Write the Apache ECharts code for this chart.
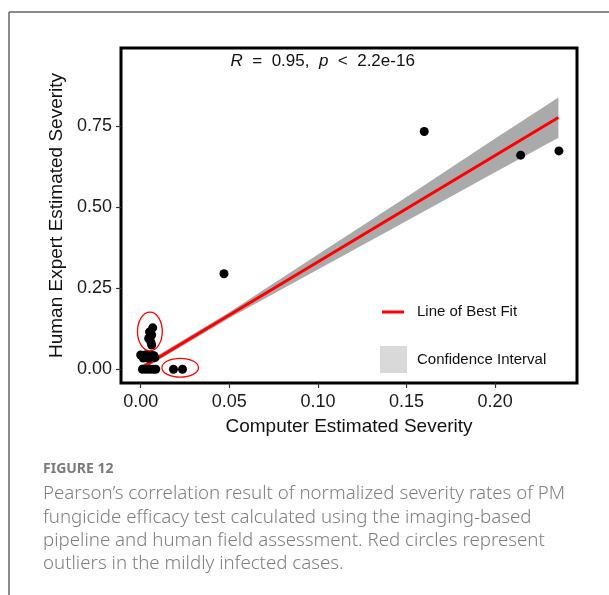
<!DOCTYPE html>
<html>
<head>
<meta charset="utf-8">
<script src="https://cdn.jsdelivr.net/npm/echarts@6/dist/echarts.min.js"></script>
<style>
  html, body { margin: 0; padding: 0; background: #fff; }
  #chart { width: 609px; height: 595px; }
</style>
</head>
<body>
<div id="chart"></div>
<script>
// [computer estimated, human estimated]
var clusterPoints = [
  [0.0068, 0.128], [0.0050, 0.115], [0.0062, 0.106], [0.0045, 0.095],
  [0.0058, 0.084], [0.0062, 0.075],
  [0.0000, 0.044], [0.0030, 0.045], [0.0060, 0.044], [0.0075, 0.042],
  [0.0015, 0.035], [0.0045, 0.034], [0.0080, 0.036],
  [0.0010, 0.000], [0.0030, 0.000], [0.0050, 0.000], [0.0070, 0.000], [0.0085, 0.000],
  [0.0185, 0.000], [0.0236, 0.000]
];
var otherPoints = [
  [0.047, 0.295], [0.160, 0.734], [0.2144, 0.661], [0.236, 0.674]
];
var fitX = [0.0005, 0.2357];
var fitY = [0.0047, 0.777];
var bandX = [0.0005, 0.05, 0.10, 0.15, 0.20, 0.2357];
var bandLower = [-0.003, 0.158, 0.308, 0.458, 0.608, 0.715];
var bandUpper = [0.013, 0.176, 0.354, 0.532, 0.712, 0.839];
// outlier rings: [centre x, centre y, radius x, radius y] in data units
var outlierRings = [
  [0.0052, 0.1167, 0.0070, 0.0596],
  [0.0223, 0.0050, 0.0103, 0.0290]
];
var xTicks = [0, 0.05, 0.10, 0.15, 0.20];
var yTicks = [0, 0.25, 0.50, 0.75];

var captionLines = [
  "Pearson\u2019s correlation result of normalized severity rates of PM",
  "fungicide efficacy test calculated using the imaging-based",
  "pipeline and human field assessment. Red circles represent",
  "outliers in the mildly infected cases."
];

var chart = echarts.init(document.getElementById("chart"));
var axisFont = "Liberation Sans";

var fitData = fitX.map(function (x, i) { return [x, fitY[i]]; });
var points = clusterPoints.concat(otherPoints);

var graphics = [
  { type: "line", shape: { x1: 9, y1: 12, x2: 609, y2: 12 }, style: { stroke: "#666", lineWidth: 1.5 } },
  { type: "line", shape: { x1: 9, y1: 12, x2: 9, y2: 595 }, style: { stroke: "#666", lineWidth: 1.5 } },
  {
    type: "text", x: 322.7, y: 61,
    style: {
      text: "{i|R}  =  0.95,  {i|p}  <  2.2e-16",
      fontFamily: axisFont, fontSize: 17, fill: "#111",
      align: "center", verticalAlign: "middle",
      rich: { i: { fontStyle: "italic", fontFamily: axisFont, fontSize: 17, fill: "#111" } }
    }
  },
  { type: "line", shape: { x1: 382, y1: 312, x2: 404, y2: 312 }, style: { stroke: "#ff0000", lineWidth: 3 } },
  { type: "rect", shape: { x: 380, y: 346, width: 27, height: 27 }, style: { fill: "#d9d9d9" } },
  { type: "text", x: 417, y: 312, style: { text: "Line of Best Fit", fontFamily: axisFont, fontSize: 15, fill: "#111", verticalAlign: "middle" } },
  { type: "text", x: 417, y: 360, style: { text: "Confidence Interval", fontFamily: axisFont, fontSize: 15, fill: "#111", verticalAlign: "middle" } },
  { type: "text", x: 43, y: 469, style: { text: "FIGURE 12", fontFamily: "Noto Sans", fontWeight: "bold", fontSize: 14, fill: "#7a7a7a", verticalAlign: "middle" } }
];
captionLines.forEach(function (line, i) {
  graphics.push({
    type: "text", x: 43, y: 494 + i * 23.3,
    style: { text: line, fontFamily: "Noto Sans", fontWeight: 300, fontSize: 18.7, fill: "#808080", verticalAlign: "middle" }
  });
});

chart.setOption({
  animation: false,
  grid: {
    left: 121, right: 32, top: 48, bottom: 212,
    show: true, borderColor: "#000", borderWidth: 3, backgroundColor: "#fff"
  },
  xAxis: {
    type: "value",
    min: -0.0111, max: 0.2462,
    name: "Computer Estimated Severity",
    nameLocation: "middle", nameGap: 34,
    nameTextStyle: { fontFamily: axisFont, fontSize: 19, color: "#111" },
    axisLine: { show: false, onZero: false },
    splitLine: { show: false },
    axisTick: { show: true, customValues: xTicks, length: 5, lineStyle: { color: "#333", width: 1.2 } },
    axisLabel: {
      customValues: xTicks, margin: 10,
      fontFamily: axisFont, fontSize: 18, color: "#1a1a1a",
      formatter: function (v) { return v.toFixed(2); }
    }
  },
  yAxis: {
    type: "value",
    min: -0.0423, max: 0.9917,
    name: "Human Expert Estimated Severity",
    nameLocation: "middle", nameGap: 51,
    nameTextStyle: { fontFamily: axisFont, fontSize: 19, color: "#111" },
    axisLine: { show: false, onZero: false },
    splitLine: { show: false },
    axisTick: { show: true, customValues: yTicks, length: 5, lineStyle: { color: "#333", width: 1.2 } },
    axisLabel: {
      customValues: yTicks, margin: 9,
      fontFamily: axisFont, fontSize: 18, color: "#1a1a1a",
      formatter: function (v) { return v.toFixed(2); }
    }
  },
  graphic: graphics,
  series: [
    {
      type: "custom",
      silent: true,
      z: 1,
      data: [[bandX[0], bandLower[0]]],
      renderItem: function (params, api) {
        var pts = [];
        for (var i = 0; i < bandX.length; i++) pts.push(api.coord([bandX[i], bandUpper[i]]));
        for (var j = bandX.length - 1; j >= 0; j--) pts.push(api.coord([bandX[j], bandLower[j]]));
        return { type: "polygon", shape: { points: pts }, style: { fill: "#aaaaaa" } };
      }
    },
    {
      type: "line",
      data: fitData,
      symbol: "none",
      silent: true,
      z: 2,
      lineStyle: { color: "#ff0000", width: 3 }
    },
    {
      type: "scatter",
      data: points,
      symbolSize: 9,
      z: 3,
      itemStyle: { color: "#000", opacity: 1 }
    },
    {
      type: "custom",
      silent: true,
      z: 4,
      data: outlierRings,
      encode: { x: 0, y: 1 },
      renderItem: function (params, api) {
        var c = api.coord([api.value(0), api.value(1)]);
        var s = api.size([api.value(2), api.value(3)]);
        return {
          type: "ellipse",
          shape: { cx: c[0], cy: c[1], rx: s[0], ry: s[1] },
          style: { fill: "none", stroke: "#ff0000", lineWidth: 1.3 }
        };
      }
    }
  ]
});
</script>
</body>
</html>
